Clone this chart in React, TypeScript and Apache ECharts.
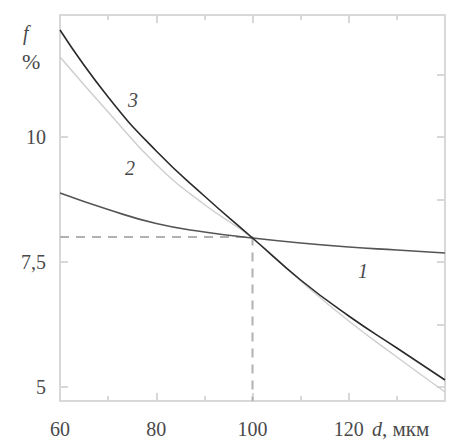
import React, { useEffect, useRef } from "react";
import * as echarts from "echarts";

const dValues = [60, 70, 80, 90, 100, 110, 120, 130, 140];
const curve1 = [8.88, 8.55, 8.27, 8.1, 7.98, 7.88, 7.8, 7.74, 7.68];
const curve2 = [11.6, 10.5, 9.45, 8.65, 7.98, 7.12, 6.32, 5.6, 4.9];
const curve3 = [12.14, 10.8, 9.72, 8.82, 7.98, 7.14, 6.42, 5.78, 5.14];
const xTickLabels = [60, 80, 100, 120];
const yTickLabels = [5, 7.5, 10];
const yRightTicks = [5, 6.25, 7.5, 8.75, 10, 11.25];
const refPoint = { d: 100, v: 8 };

const FONT = "Liberation Serif";
const TEXT = "#4a4a4a";
const FRAME = "#d8d8d8";
const Y_MIN = 4.72;
const Y_MAX = 12.44;

export default function App() {
  const ref = useRef<HTMLDivElement>(null);
  useEffect(() => {
    if (!ref.current) return;
    const chart = echarts.init(ref.current, undefined, { renderer: "svg" });
    const toPairs = (ys: number[]) => dValues.map((d, i) => [d, ys[i]]);
    chart.setOption({
      animation: false,
      backgroundColor: "#fff",
      grid: { left: 60, right: 13, top: 15, bottom: 45 },
      xAxis: [
        {
          type: "value",
          min: 60,
          max: 140,
          interval: 20,
          position: "bottom",
          axisLine: { show: true, lineStyle: { color: FRAME, width: 2 } },
          axisTick: { show: true, inside: true, length: 8, lineStyle: { color: FRAME, width: 2 } },
          minorTick: { show: true, splitNumber: 2, length: 5, lineStyle: { color: FRAME, width: 2 } },
          axisLabel: {
            customValues: xTickLabels,
            color: TEXT,
            fontFamily: FONT,
            fontSize: 20,
            margin: 18,
          },
          splitLine: { show: false },
        },
        {
          type: "value",
          min: 60,
          max: 140,
          interval: 20,
          position: "top",
          axisLine: { show: true, lineStyle: { color: FRAME, width: 2 } },
          axisTick: { show: true, inside: true, length: 8, lineStyle: { color: FRAME, width: 2 } },
          minorTick: { show: true, splitNumber: 2, length: 5, lineStyle: { color: FRAME, width: 2 } },
          axisLabel: { show: false },
          splitLine: { show: false },
        },
      ],
      yAxis: [
        {
          type: "value",
          min: Y_MIN,
          max: Y_MAX,
          position: "left",
          axisLine: { show: true, lineStyle: { color: FRAME, width: 2 } },
          axisTick: {
            show: true,
            inside: true,
            length: 8,
            customValues: yTickLabels,
            lineStyle: { color: FRAME, width: 2 },
          },
          axisLabel: {
            customValues: yTickLabels,
            color: TEXT,
            fontFamily: FONT,
            fontSize: 20,
            margin: 14,
            formatter: (v: number) => String(v).replace(".", ","),
          },
          splitLine: { show: false },
        },
        {
          type: "value",
          min: Y_MIN,
          max: Y_MAX,
          position: "right",
          axisLine: { show: true, lineStyle: { color: FRAME, width: 2 } },
          axisTick: {
            show: true,
            inside: true,
            length: 8,
            customValues: yRightTicks,
            lineStyle: { color: FRAME, width: 2 },
          },
          axisLabel: { show: false },
          splitLine: { show: false },
        },
      ],
      series: [
        {
          type: "line",
          data: [
            [60, refPoint.v],
            [refPoint.d, refPoint.v],
            [refPoint.d, Y_MIN],
          ],
          symbol: "none",
          lineStyle: { color: "#b0b0b0", width: 2, type: [9, 7] },
          z: 1,
        },
        {
          type: "line",
          data: toPairs(curve2),
          smooth: true,
          symbol: "none",
          lineStyle: { color: "#cfcfcf", width: 1.5 },
          z: 2,
        },
        {
          type: "line",
          data: toPairs(curve1),
          smooth: true,
          symbol: "none",
          lineStyle: { color: "#555", width: 1.6 },
          z: 3,
        },
        {
          type: "line",
          data: toPairs(curve3),
          smooth: true,
          symbol: "none",
          lineStyle: { color: "#2a2a2a", width: 1.6 },
          z: 4,
        },
      ],
      graphic: [
        { type: "text", left: 23, top: 23, style: { text: "f", font: `italic 20px ${FONT}`, fill: TEXT } },
        { type: "text", left: 22, top: 50, style: { text: "%", font: `22px ${FONT}`, fill: TEXT } },
        { type: "text", left: 128, top: 90, style: { text: "3", font: `italic 20px ${FONT}`, fill: TEXT } },
        { type: "text", left: 125, top: 158, style: { text: "2", font: `italic 20px ${FONT}`, fill: TEXT } },
        { type: "text", left: 358, top: 261, style: { text: "1", font: `italic 20px ${FONT}`, fill: TEXT } },
        {
          type: "text",
          left: 372,
          top: 418,
          style: {
            rich: {
              d: { fontStyle: "italic", fontSize: 20, fontFamily: FONT, fill: TEXT },
              u: { fontSize: 21, fontFamily: FONT, fill: TEXT },
            },
            text: "{d|d}{u|, мкм}",
          },
        },
      ],
    });
    return () => chart.dispose();
  }, []);
  return (
    <div
      ref={ref}
      style={{ position: "fixed", left: 0, top: 0, width: 458, height: 446 }}
    />
  );
}
